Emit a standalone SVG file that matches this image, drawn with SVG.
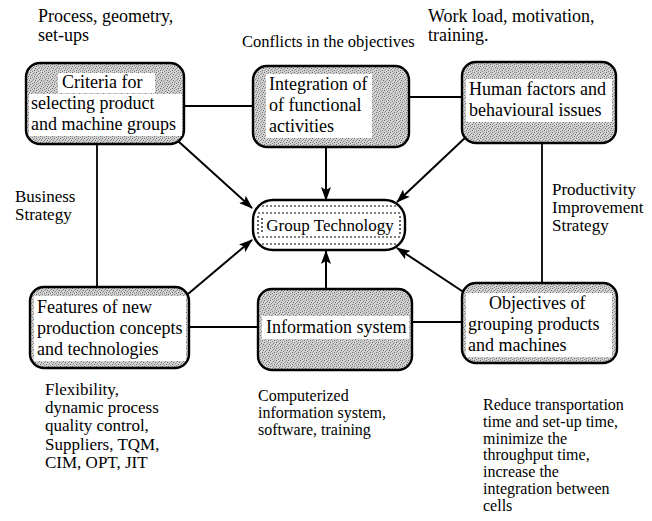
<svg xmlns="http://www.w3.org/2000/svg" width="652" height="521" viewBox="0 0 652 521">
<defs>
<pattern id="stip" width="6" height="6" patternUnits="userSpaceOnUse">
<rect width="6" height="6" fill="#d2d2d2"/>
<rect x="0" y="0" width="1" height="1" fill="#6a6a6a"/>
<rect x="3" y="1" width="1" height="1" fill="#808080"/>
<rect x="5" y="2" width="1" height="1" fill="#6a6a6a"/>
<rect x="1" y="3" width="1" height="1" fill="#8a8a8a"/>
<rect x="4" y="4" width="1" height="1" fill="#6a6a6a"/>
<rect x="2" y="5" width="1" height="1" fill="#808080"/>
<rect x="0" y="4" width="1" height="1" fill="#a0a0a0"/>
<rect x="4" y="0" width="1" height="1" fill="#a0a0a0"/>
<rect x="2" y="2" width="1" height="1" fill="#9a9a9a"/>
</pattern>
<marker id="arr" markerWidth="14" markerHeight="10" refX="13" refY="5" orient="auto" markerUnits="userSpaceOnUse">
<path d="M0,0 L14,5 L0,10 L3,5 Z" fill="#000"/>
</marker>
<style>
.box{fill:url(#stip);stroke:#000;stroke-width:2.4}
.wb{fill:#fff}
.ln{stroke:#000;stroke-width:1.8;fill:none}
.ar{stroke:#000;stroke-width:2;fill:none;marker-end:url(#arr)}
.dot{stroke:#000;stroke-width:1.2;stroke-dasharray:2 2;fill:none}
</style>
</defs>

<g id="connectors">
<line class="ln" x1="184" y1="106" x2="253" y2="106"/>
<line class="ln" x1="409" y1="97" x2="462" y2="97"/>
<line class="ln" x1="97" y1="144" x2="97" y2="287"/>
<line class="ln" x1="542" y1="143" x2="542" y2="283"/>
<line class="ln" x1="189" y1="327" x2="258" y2="327"/>
<line class="ln" x1="412" y1="322" x2="462" y2="322"/>
<line class="ar" x1="178" y1="141" x2="252" y2="208"/>
<line class="ar" x1="326" y1="147" x2="326" y2="200"/>
<line class="ar" x1="467" y1="136" x2="397" y2="202"/>
<line class="ar" x1="188" y1="294" x2="252" y2="240"/>
<line class="ar" x1="326" y1="289" x2="326" y2="251"/>
<line class="ar" x1="465" y1="293" x2="397" y2="248"/>
</g>

<g font-family="Liberation Serif, serif" font-size="18" fill="#000">
<g id="criteria">
<rect class="box" x="26" y="63" width="158" height="81" rx="14"/>
<rect class="wb" x="58" y="73" width="97" height="20"/>
<rect class="wb" x="29" y="94" width="153" height="42"/>
<text x="62" y="88">Criteria for</text>
<text x="31" y="109">selecting product</text>
<text x="31" y="130">and machine groups</text>
</g>

<g id="integration">
<rect class="box" x="253" y="66" width="156" height="81" rx="14"/>
<rect class="wb" x="266" y="74" width="106" height="64"/>
<text x="269" y="90">Integration of</text>
<text x="269" y="111">of functional</text>
<text x="269" y="132">activities</text>
</g>

<g id="human">
<rect class="box" x="462" y="62" width="154" height="81" rx="14"/>
<rect class="wb" x="466" y="79" width="146" height="43"/>
<text x="469" y="95">Human factors and</text>
<text x="469" y="116">behavioural issues</text>
</g>

<g id="gt" font-size="17">
<rect x="253" y="200" width="152" height="50" rx="20" fill="#fff" stroke="#000" stroke-width="2.4"/>
<line class="dot" x1="262" y1="206" x2="398" y2="206"/>
<line class="dot" x1="258" y1="213" x2="402" y2="213"/>
<line class="dot" x1="258" y1="237" x2="402" y2="237"/>
<line class="dot" x1="262" y1="244" x2="398" y2="244"/>
<line class="dot" x1="258" y1="216" x2="258" y2="234"/>
<line class="dot" x1="262" y1="218" x2="262" y2="234"/>
<line class="dot" x1="400" y1="216" x2="400" y2="234"/>
<text x="330" y="231" text-anchor="middle">Group Technology</text>
</g>

<g id="features">
<rect class="box" x="30" y="287" width="159" height="81" rx="14"/>
<rect class="wb" x="34" y="296" width="152" height="65"/>
<text x="37" y="313">Features of new</text>
<text x="37" y="334">production concepts</text>
<text x="37" y="355">and technologies</text>
</g>

<g id="information">
<rect class="box" x="258" y="289" width="154" height="81" rx="14"/>
<rect class="wb" x="262" y="316" width="147" height="23"/>
<text x="266" y="333">Information system</text>
</g>

<g id="objectives">
<rect class="box" x="462" y="283" width="155" height="80" rx="14"/>
<rect class="wb" x="466" y="293" width="146" height="64"/>
<text x="489" y="309">Objectives of</text>
<text x="468" y="330">grouping products</text>
<text x="468" y="351">and machines</text>
</g>

<g id="notes">
<text x="38" y="22">Process, geometry,</text>
<text x="38" y="40.5">set-ups</text>
<text x="242" y="47" font-size="16.5">Conflicts in the objectives</text>
<text x="428" y="22">Work load, motivation,</text>
<text x="428" y="40.5">training.</text>
<g font-size="17">
<text x="15" y="202">Business</text>
<text x="15" y="220">Strategy</text>
<text x="552" y="195">Productivity</text>
<text x="552" y="213">Improvement</text>
<text x="552" y="231">Strategy</text>
<text x="45" y="395">Flexibility,</text>
<text x="45" y="413">dynamic process</text>
<text x="45" y="431">quality control,</text>
<text x="45" y="450">Suppliers, TQM,</text>
<text x="45" y="468">CIM, OPT, JIT</text>
</g>
<g font-size="16">
<text x="258" y="401">Computerized</text>
<text x="258" y="418">information system,</text>
<text x="258" y="435">software, training</text>
<text x="483" y="410">Reduce transportation</text>
<text x="483" y="427">time and set-up time,</text>
<text x="483" y="443.7">minimize the</text>
<text x="483" y="460.4">throughput time,</text>
<text x="483" y="477.1">increase the</text>
<text x="483" y="493.8">integration between</text>
<text x="483" y="510.5">cells</text>
</g>
</g>
</g>
</svg>
